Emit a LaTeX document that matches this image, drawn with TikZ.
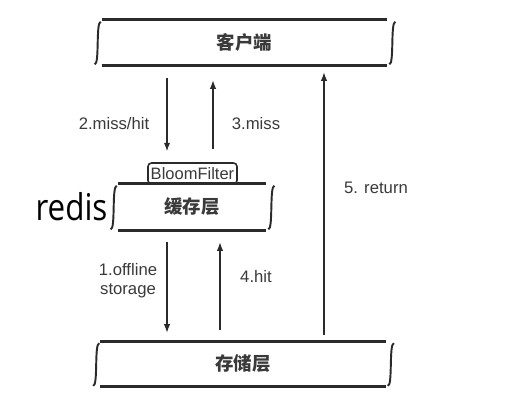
\documentclass[tikz,border=0pt]{standalone}
\usepackage{fontspec}
\setmainfont{Liberation Sans}
\newfontfamily\cjk{Noto Sans CJK SC}
\newfontfamily\redisfont{Open Sans}
\usetikzlibrary{arrows.meta}
\definecolor{ink}{HTML}{2A2A2A}
\definecolor{txt}{HTML}{3A3A3A}
\tikzset{
  layer/.style={draw=none, inner sep=0pt, font=\cjk\bfseries\fontsize{10.5}{12}\selectfont, text=txt},
  bar/.style={line width=1.6pt, draw=ink},
  side/.style={line width=1.1pt, draw=ink},
  arr/.style={line width=0.6pt, draw=ink, -{Latex[length=4.8pt,width=3.6pt]}},
  lbl/.style={font=\fontsize{9.5}{11}\selectfont, text=txt, inner sep=0pt, align=center},
  filterbox/.style={draw=ink, line width=0.9pt, rounded corners=2pt, inner sep=0pt,
    font=\fontsize{9.4}{11}\selectfont, text=txt},
}
\newcommand\drawlayer[1]{%
  \draw[bar] (#1.north west) -- (#1.north east);
  \draw[bar] (#1.south west) -- (#1.south east);
  \draw[side] ([shift={(-1,2)}]#1.north west) .. controls ([shift={(-6,3)}]#1.north west) and ([shift={(-2,-1)}]#1.south west) .. ([shift={(-7,-1)}]#1.south west);
  \draw[side] ([shift={(8,2)}]#1.north east) .. controls ([shift={(3,3)}]#1.north east) and ([shift={(7,-1)}]#1.south east) .. ([shift={(2,-1)}]#1.south east);
}
\begin{document}
\begin{tikzpicture}[x=0.02cm, y=-0.02cm]
\useasboundingbox (0,0) rectangle (508,407);
\fill[white] (0,0) rectangle (508,407);
% layers
\node[layer, minimum width=5.7cm, minimum height=0.9cm] (client) at (244.5,42.5) {客户端};
\node[layer, minimum width=2.96cm, minimum height=0.92cm] (cache) at (192,207) {缓存层};
\node[layer, minimum width=5.7cm, minimum height=0.9cm] (store) at (243,364) {存储层};
\drawlayer{client}
\drawlayer{cache}
\drawlayer{store}
\node[filterbox, minimum width=1.78cm, minimum height=0.42cm] (bloom) at (192.5,173.5) {BloomFilter};
\node[font=\redisfont\fontsize{21}{24}\selectfont, text=black, inner sep=0pt, xscale=0.85] (redis) at (71.5,207) {redis};
% x positions of connectors
\coordinate (x2) at (167,0);
\coordinate (x3) at (213,0);
\coordinate (x1) at (167,0);
\coordinate (x4) at (220,0);
\coordinate (x5) at (324,0);
% connectors
\draw[arr, shorten <=0.26cm, shorten >=0.22cm] (client.south -| x2) -- (bloom.north -| x2);
\draw[arr, shorten <=0.26cm, shorten >=0.3cm] (bloom.north -| x3) -- (client.south -| x3);
\draw[arr, shorten <=0.24cm, shorten >=0.17cm] (cache.south -| x1) -- (store.north -| x1);
\draw[arr, shorten <=0.22cm, shorten >=0.24cm] (store.north -| x4) -- (cache.south -| x4);
\draw[arr, shorten <=0.13cm, shorten >=0.14cm] (store.north -| x5) -- (client.south -| x5);
% labels
\node[lbl] (l2) at (114,124) {2.miss/hit};
\node[lbl] (l3) at (256,124) {3.miss};
\node[lbl] (l1) at (128,281) {1.offline\\storage};
\node[lbl] (l4) at (256,277) {4.hit};
\node[lbl] (l5) at (376,188) {5. return};
\end{tikzpicture}
\end{document}
